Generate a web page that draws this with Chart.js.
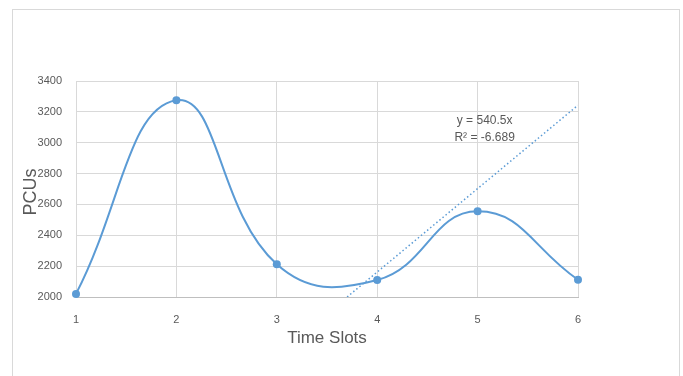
<!DOCTYPE html>
<html>
<head>
<meta charset="utf-8">
<script src="https://cdn.jsdelivr.net/npm/chart.js@4.4.1/dist/chart.umd.min.js"></script>
<style>
    html, body { margin: 0; padding: 0; background: #fff; }
    #wrap { position: relative; width: 683px; height: 376px; overflow: hidden; }
    #frame { position: absolute; left: 12px; top: 9px; width: 668px; height: 400px; border: 1px solid #d9d9d9; box-sizing: border-box; }
    #chart { position: absolute; left: 0; top: 0; }
</style>
</head>
<body>
<div id="wrap">
    <div id="frame"></div>
    <canvas id="chart" width="683" height="376"></canvas>
</div>
<script>
// ── data ────────────────────────────────────────────────────────
const timeSlots = [1, 2, 3, 4, 5, 6];
const pcus = [2020, 3275, 2212, 2110, 2555, 2112];
const yTicks = [2000, 2200, 2400, 2600, 2800, 3000, 3200, 3400];
const trendSlope = 540.5;          // y = 540.5x (through origin)
const trendLabel = ['y = 540.5x', 'R\u00b2 = -6.689'];

const BLUE = '#5b9bd5';
const GRID = '#d9d9d9';
const TEXT = '#595959';
const FONT = "'Liberation Sans', Arial, sans-serif";

// trendline from where it enters the plot (y = 2000) to the last slot
const yMin = yTicks[0];
const trendPts = [
    { x: yMin / trendSlope, y: yMin },
    { x: timeSlots[timeSlots.length - 1], y: trendSlope * timeSlots[timeSlots.length - 1] }
];

// axis titles + trendline equation, Excel style
const labelsPlugin = {
    id: 'excelLabels',
    afterDraw(chart) {
        const { ctx, chartArea: a, scales } = chart;
        ctx.save();
        ctx.fillStyle = TEXT;
        ctx.textAlign = 'center';
        ctx.textBaseline = 'middle';

        ctx.font = `17px ${FONT}`;
        ctx.fillText('Time Slots', (a.left + a.right) / 2, 338);

        ctx.save();
        ctx.translate(31, 192);
        ctx.rotate(-Math.PI / 2);
        ctx.font = `18px ${FONT}`;
        ctx.fillText('PCUs', 0, 0);
        ctx.restore();

        ctx.font = `12px ${FONT}`;
        const tx = scales.x.getPixelForValue(5.07);
        ctx.fillText(trendLabel[0], tx, scales.y.getPixelForValue(3140));
        ctx.fillText(trendLabel[1], tx, scales.y.getPixelForValue(3030));
        ctx.restore();
    }
};

new Chart(document.getElementById('chart'), {
    type: 'line',
    data: {
        datasets: [
            {
                label: 'PCUs',
                data: timeSlots.map((t, i) => ({ x: t, y: pcus[i] })),
                borderColor: BLUE,
                backgroundColor: BLUE,
                borderWidth: 2,
                tension: 0.45,
                pointRadius: 4,
                pointBackgroundColor: BLUE,
                pointBorderWidth: 0,
                clip: false
            },
            {
                label: 'Linear trend',
                data: trendPts,
                borderColor: BLUE,
                borderWidth: 1.5,
                borderDash: [1.5, 2.5],
                pointRadius: 0,
                tension: 0
            }
        ]
    },
    options: {
        responsive: false,
        animation: false,
        layout: { padding: { left: 0, right: 105, top: 81, bottom: 0 } },
        scales: {
            x: {
                type: 'linear',
                min: 1,
                max: 6,
                afterFit: s => { s.height = 79; },
                ticks: { stepSize: 1, color: TEXT, padding: 16, font: { family: FONT, size: 11 } },
                grid: { color: GRID, drawTicks: false },
                border: { color: '#bfbfbf' }
            },
            y: {
                min: 2000,
                max: 3400,
                afterFit: s => { s.width = 76; },
                afterBuildTicks: s => { s.ticks = yTicks.map(v => ({ value: v })); },
                ticks: { color: TEXT, padding: 14, font: { family: FONT, size: 11 }, callback: v => String(v) },
                grid: { color: GRID, drawTicks: false },
                border: { display: false }
            }
        },
        plugins: {
            legend: { display: false },
            tooltip: { enabled: false }
        }
    },
    plugins: [labelsPlugin]
});
</script>
</body>
</html>
